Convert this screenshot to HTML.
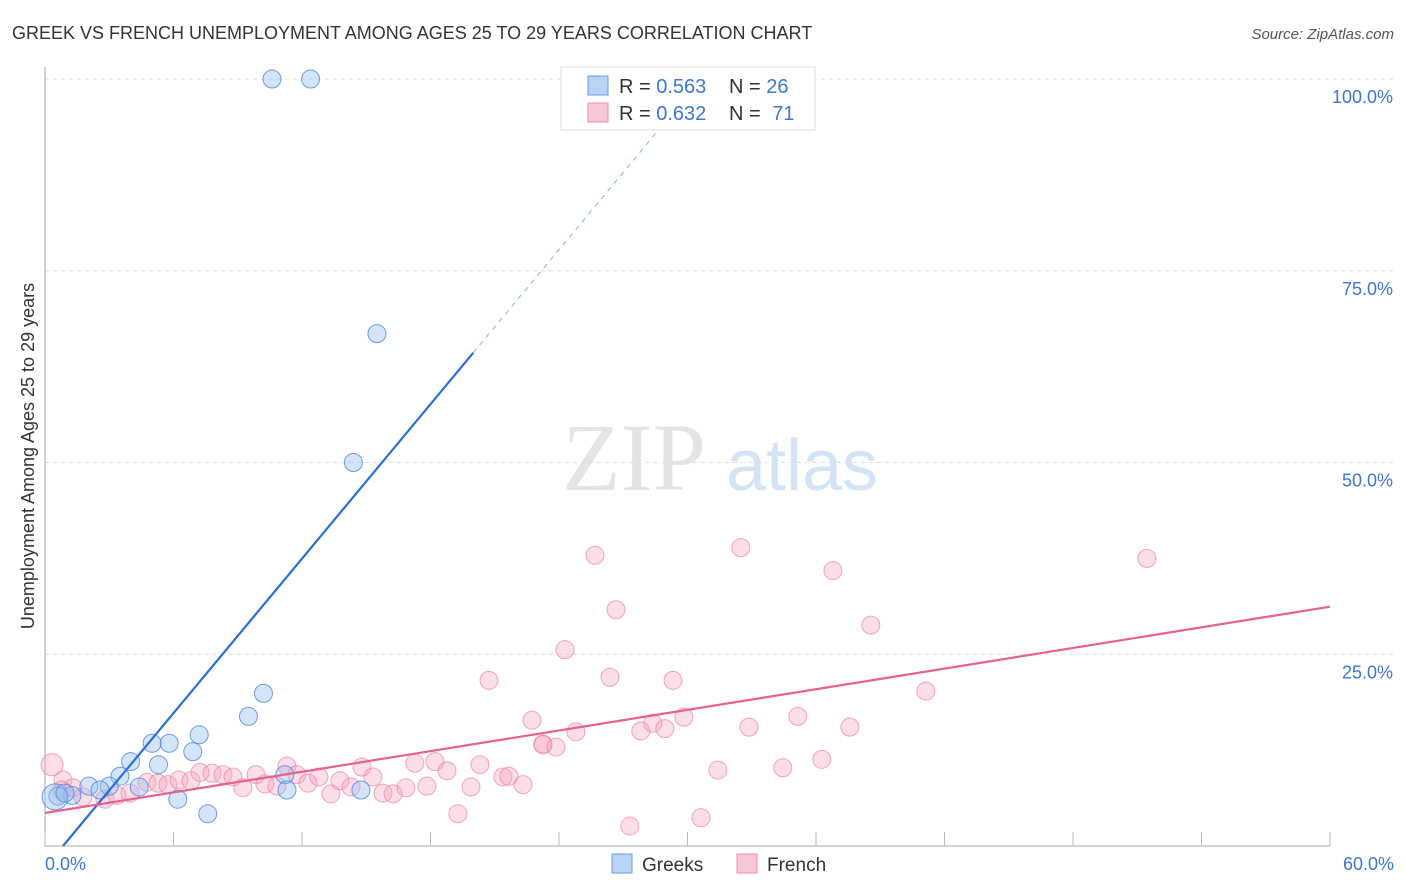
<!DOCTYPE html>
<html><head><meta charset="utf-8"><style>
body{margin:0;background:#fff;font-family:"Liberation Sans",sans-serif;}
svg{display:block}
</style></head><body>
<svg id="chart" width="1406" height="892">
<text x="12" y="39" font-size="18" fill="#333">GREEK VS FRENCH UNEMPLOYMENT AMONG AGES 25 TO 29 YEARS CORRELATION CHART</text>
<text x="1394" y="39" font-size="15" fill="#555" font-style="italic" text-anchor="end">Source: ZipAtlas.com</text>
<g>
<text x="634" y="490" font-size="96" fill="#e4e4e4" text-anchor="middle" font-family="Liberation Serif,serif">ZIP</text>
<text x="802" y="490" font-size="72" fill="#d5e4f5" text-anchor="middle">atlas</text>
</g>
<g id="grid"></g><g id="axes"></g><g id="marks"></g>
<text transform="translate(34,456) rotate(-90)" font-size="18" fill="#333" text-anchor="middle">Unemployment Among Ages 25 to 29 years</text>
<g>
<rect x="561" y="67" width="254" height="63" fill="#fff" stroke="#ddd"/>
<rect x="588" y="76" width="20" height="19" fill="#b8d3f4" stroke="#6a9ee0"/>
<rect x="588" y="103" width="20" height="19" fill="#f9c6d5" stroke="#ec8fac"/>
<text x="619" y="93" font-size="20" fill="#333">R = <tspan fill="#3a78d4">0.563</tspan></text>
<text x="729" y="93" font-size="20" fill="#333">N = <tspan fill="#3a78d4">26</tspan></text>
<text x="619" y="120" font-size="20" fill="#333">R = <tspan fill="#3a78d4">0.632</tspan></text>
<text x="729" y="120" font-size="20" fill="#333">N = <tspan fill="#3a78d4" dx="6">71</tspan></text>
</g>
<g>
<rect x="612" y="854" width="20" height="19" fill="#b8d3f4" stroke="#6a9ee0"/>
<text x="642" y="871" font-size="19" fill="#333">Greeks</text>
<rect x="737" y="854" width="20" height="19" fill="#f9c6d5" stroke="#ec8fac"/>
<text x="767" y="871" font-size="19" fill="#333">French</text>
</g>
</svg>
<script>
const greekX=[10.6,12.4,15.5,14.4,10.2,9.5,7.2,5.8,5.0,6.9,5.3,4.0,3.5,4.4,3.0,2.05,1.26,0.6,0.47,6.2,7.6,11.2,11.3,14.75,2.57,0.93];
const greekY=[100,100,66.8,50,19.9,16.9,14.5,13.4,13.4,12.3,10.6,11.0,9.1,7.7,7.8,7.8,6.6,6.5,6.4,6.1,4.2,9.3,7.3,7.3,7.3,6.9];
const frenchX=[20.73,22.74,23.25,0.33,0.84,1.31,1.77,2.80,3.36,3.97,4.76,5.28,5.74,6.26,6.82,7.24,7.80,8.31,8.78,9.24,9.85,10.27,10.83,11.30,11.76,12.28,12.79,13.35,13.77,14.29,14.80,15.31,15.78,16.25,16.85,17.27,17.83,18.21,18.77,19.28,19.89,20.31,21.38,21.66,22.32,26.38,29.32,23.25,23.86,24.79,27.82,28.38,28.94,29.83,32.87,35.15,37.58,31.42,34.45,36.27,41.13,27.31,30.63,25.68,32.49,36.79,26.66,24.28,38.56,51.45,0.79];
const frenchY=[21.6,16.4,13.3,10.6,8.6,7.6,6.4,6.1,6.6,6.9,8.3,8.2,8.0,8.6,8.5,9.6,9.5,9.3,9.0,7.6,9.3,8.1,7.8,10.4,9.3,8.2,9.0,6.8,8.5,7.7,10.3,9.0,6.9,6.8,7.6,10.8,7.8,11.0,9.8,4.2,7.7,10.6,9.0,9.1,8.0,22.0,21.6,13.2,12.9,14.9,15.0,16.0,15.3,16.8,15.5,16.9,15.5,9.9,10.2,11.3,20.2,2.6,3.7,37.9,38.9,35.9,30.8,25.6,28.8,37.5,7.3];
const yTicks=[25,50,75,100];
const yTickLabels=["25.0%","50.0%","75.0%","100.0%"];
const xTicks=[0,6,12,18,24,30,36,42,48,54,60];
const greekTrend=[0.84,3.357]; // x-intercept, slope
const frenchTrend=[4.3,31.2]; // y at x=0, y at x=60
const NS='http://www.w3.org/2000/svg';
const X=v=>45+v*(1285/60), Y=v=>846-v*7.67;
function mk(p,t,a){const e=document.createElementNS(NS,t);for(const k in a)e.setAttribute(k,a[k]);p.appendChild(e);return e;}
const grid=document.getElementById('grid'),axes=document.getElementById('axes'),marks=document.getElementById('marks');
yTicks.forEach((t,i)=>{
 const l=mk(grid,'line',{x1:45,x2:1395,y1:Y(t),y2:Y(t),stroke:'#ddd','stroke-dasharray':'4,4'});
 
 
 const tx=mk(axes,'text',{x:1393,y:Y(t)+24,'font-size':18,fill:'#3a78d4','text-anchor':'end'});
 tx.textContent=yTickLabels[i];
 
 
});
const ax=mk(axes,'path',{d:'M45,67V846H1330',stroke:'#aaa',fill:'none'});


xTicks.forEach(t=>{const l=mk(axes,'line',{x1:X(t),x2:X(t),y1:832,y2:846,stroke:'#bbb'});
 
 });
[[0,'0.0%',45,'start'],[60,'60.0%',1394,'end']].forEach(a=>{const t=mk(axes,'text',{x:a[2],y:870,'font-size':18,fill:'#3a78d4','text-anchor':a[3]});t.textContent=a[1];
 
 });
frenchX.forEach((x,i)=>{const c=mk(marks,'circle',{cx:X(x),cy:Y(frenchY[i]),r:(i==3?11:9),fill:'rgba(245,160,185,0.35)',stroke:'rgba(236,130,165,0.7)','stroke-width':1});
 
 });
greekX.forEach((x,i)=>{const c=mk(marks,'circle',{cx:X(x),cy:Y(greekY[i]),r:(i==18?13:9),fill:'rgba(150,190,240,0.4)',stroke:'rgba(60,130,220,0.75)','stroke-width':1});
 
 });
const gy=x=>(x-greekTrend[0])*greekTrend[1];
let l=mk(marks,'line',{x1:X(greekTrend[0]),y1:Y(0),x2:X(20),y2:Y(gy(20)),stroke:'#2a6fd6','stroke-width':2.2});


l=mk(marks,'line',{x1:X(20),y1:Y(gy(20)),x2:X(29),y2:Y(gy(29)),stroke:'#8ab0e6','stroke-width':1,'stroke-dasharray':'5,5'});


l=mk(marks,'line',{x1:X(0),y1:Y(frenchTrend[0]),x2:X(60),y2:Y(frenchTrend[1]),stroke:'#e8608e','stroke-width':2.2});


</script>
</body></html>
